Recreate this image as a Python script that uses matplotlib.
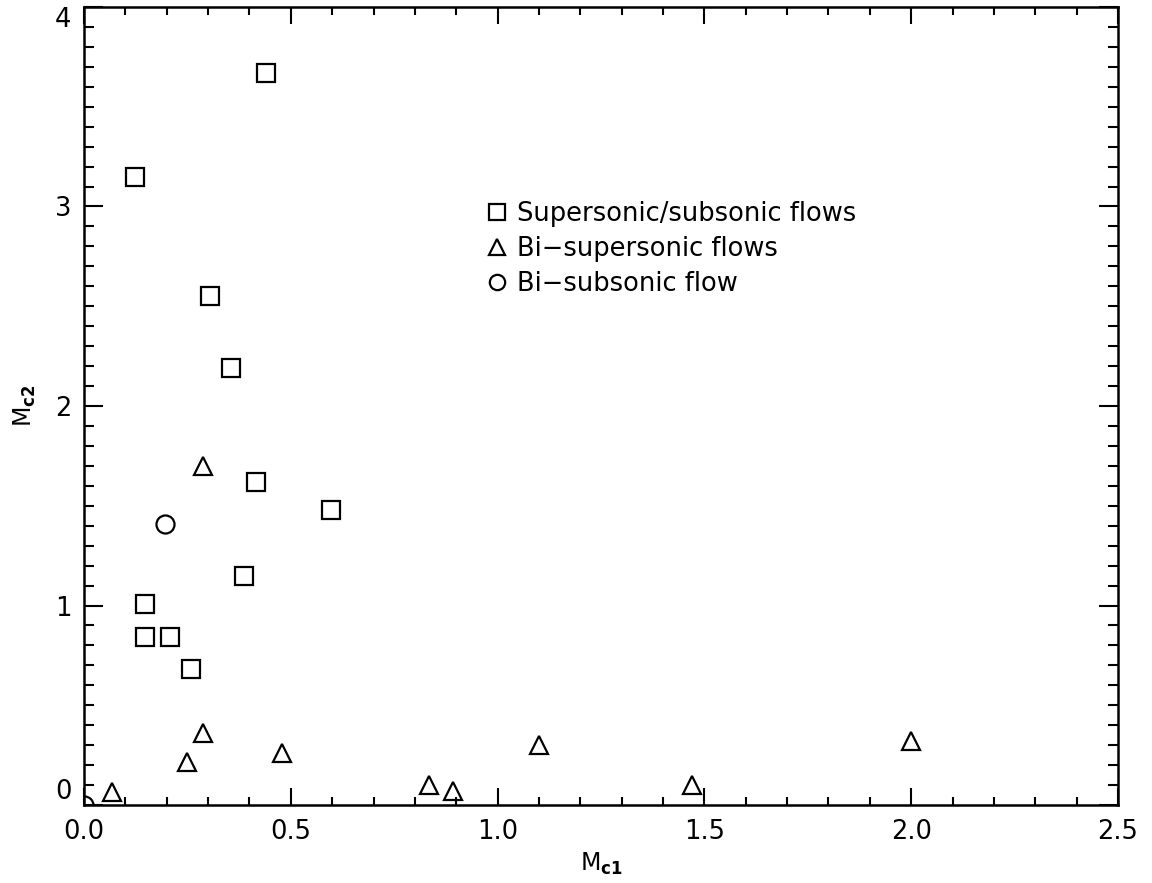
import numpy as np
import matplotlib
matplotlib.use('Agg')
import matplotlib.pyplot as plt
from matplotlib.ticker import MultipleLocator, FormatStrFormatter

plt.rcParams['font.family'] = ['DejaVu Sans']
plt.rcParams['mathtext.fontset'] = 'dejavusans'

# Data
sup_sub_x = [0.44, 0.123, 0.305, 0.356, 0.416, 0.598, 0.387, 0.148, 0.148, 0.208, 0.259]
sup_sub_y = [3.67, 3.15, 2.55, 2.19, 1.62, 1.48, 1.15, 1.01, 0.84, 0.84, 0.68]

bi_sup_x = [0.288, 0.288, 0.249, 0.479, 0.068, 0.833, 0.893, 1.10, 1.47, 2.0]
bi_sup_y = [1.70, 0.36, 0.215, 0.26, 0.065, 0.10, 0.07, 0.30, 0.10, 0.32]

bi_sub_x = [0.196, 0.0]
bi_sub_y = [1.41, 0.0]

labels = ['Supersonic/subsonic flows', 'Bi\u2212supersonic flows', 'Bi\u2212subsonic flow']
x_ticks = [0.0, 0.5, 1.0, 1.5, 2.0, 2.5]
y_ticks = [0, 1, 2, 3, 4]

fig = plt.figure(figsize=(11.52, 8.83), dpi=100)
ax = fig.add_axes([0.0729, 0.0883, 0.8976, 0.9038])

mk = dict(linestyle='none', markersize=13, markerfacecolor='none',
          markeredgecolor='black', markeredgewidth=1.6)
ax.plot(sup_sub_x, sup_sub_y, marker='s', label=labels[0], **mk)
ax.plot(bi_sup_x, bi_sup_y, marker='^', label=labels[1], **mk)
ax.plot(bi_sub_x, bi_sub_y, marker='o', label=labels[2], **mk)

ax.set_xlim(0, 2.5)
ax.set_ylim(0, 4)
ax.set_xticks(x_ticks)
ax.set_yticks(y_ticks)
ax.xaxis.set_minor_locator(MultipleLocator(0.1))
ax.yaxis.set_minor_locator(MultipleLocator(0.1))
ax.xaxis.set_major_formatter(FormatStrFormatter('%.1f'))
ax.yaxis.set_major_formatter(FormatStrFormatter('%d'))

ax.tick_params(which='both', direction='in', top=True, right=True,
               colors='black', labelsize=18.5)
ax.tick_params(axis='x', which='major', length=12, width=1.5, pad=10)
ax.tick_params(axis='x', which='minor', length=6, width=1.5)
ax.tick_params(axis='y', which='major', length=14, width=1.5, pad=9)
ax.tick_params(axis='y', which='minor', length=7, width=1.5)
for s in ax.spines.values():
    s.set_linewidth(1.8)

# keep the end labels of the y axis inside the frame, as the original does
fig.canvas.draw()
yt = ax.yaxis.get_major_ticks()
yt[0].label1.set_va('bottom')
yt[-1].label1.set_va('top')

ax.set_xlabel(r'M$_{\mathbf{c1}}$', fontsize=17, labelpad=4)
ax.set_ylabel(r'M$_{\mathbf{c2}}$', fontsize=17, labelpad=12)

ax.legend(loc='upper left', bbox_to_anchor=(0.391, 0.757), frameon=False,
          fontsize=18.5, markerscale=0.85, handlelength=0.7, handletextpad=0.4,
          labelspacing=0.35, borderpad=0, borderaxespad=0)

fig.savefig('out.png', dpi=100, facecolor='white')
